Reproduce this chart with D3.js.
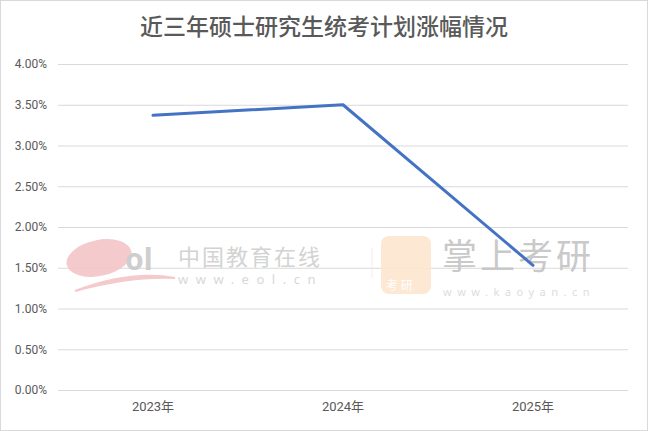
<!DOCTYPE html>
<html><head><meta charset="utf-8">
<script src="https://cdn.jsdelivr.net/npm/d3@7"></script>
<style>html,body{margin:0;padding:0;background:#fff;}svg{display:block;}</style>
</head><body>
<svg id="c" width="648" height="431"></svg>
<script>
const title = "近三年硕士研究生统考计划涨幅情况";
const categories = ["2023年", "2024年", "2025年"];
const values = [3.37, 3.50, 1.53];
const yTicks = [0, 0.5, 1, 1.5, 2, 2.5, 3, 3.5, 4];

const W = 648, H = 431;
const m = {left: 58, right: 20, top: 64, bottom: 41};
const svg = d3.select("#c");
svg.append("rect").attr("x",0.5).attr("y",0.5).attr("width",W-1).attr("height",H-1)
  .attr("fill","#fff").attr("stroke","#d9d9d9");

const x = d3.scaleBand().domain(categories).range([m.left, W - m.right]);
const y = d3.scaleLinear().domain([0, 4]).range([H - m.bottom, m.top]);

svg.append("text").attr("x", 324).attr("y", 35).attr("text-anchor","middle")
  .attr("font-family","'Noto Sans CJK SC', sans-serif").attr("font-size", 23)
  .attr("font-weight", 500)
  .attr("fill","#595959").text(title);

// grid + y axis
const ya = d3.axisLeft(y).tickValues(yTicks).tickSize(-(W - m.left - m.right))
  .tickFormat(d => d.toFixed(2) + "%").tickPadding(11);
const yg = svg.append("g").attr("transform", `translate(${m.left},0)`).call(ya);
yg.select(".domain").remove();
yg.selectAll(".tick line").attr("stroke","#d9d9d9");
yg.selectAll(".tick text").attr("fill","#595959").attr("font-size",12)
  .attr("font-family","Roboto, 'Liberation Sans', sans-serif");

// x axis
const xa = d3.axisBottom(x).tickSize(0).tickPadding(12);
const xg = svg.append("g").attr("transform", `translate(0,${H - m.bottom})`).call(xa);
xg.select(".domain").remove();
xg.selectAll(".tick text").attr("fill","#595959").attr("font-size",13)
  .attr("font-family","Roboto, 'Noto Sans CJK SC', sans-serif");

// watermarks
const wm = svg.append("g").attr("opacity", 0.9);
wm.append("ellipse").attr("cx", 99).attr("cy", 258).attr("rx", 33).attr("ry", 18)
  .attr("transform","rotate(-12,99,258)").attr("fill","#f4c5c7");
wm.append("path").attr("d","M75,291 Q130,270 175,278 Q130,276 75,291 Z").attr("fill","#f4c5c7").attr("stroke","#f4c5c7").attr("stroke-width",2);
wm.append("text").attr("x",125).attr("y",270).attr("font-size",30).attr("font-weight","bold")
  .attr("font-family","'Noto Sans', sans-serif").attr("fill","#c9c9c9").text("ol");
wm.append("text").attr("x",178).attr("y",265).attr("font-size",22).attr("letter-spacing",2)
  .attr("font-family","'Noto Sans CJK SC', sans-serif").attr("fill","#cfcfcf").text("中国教育在线");
wm.append("text").attr("x",178).attr("y",284).attr("font-size",13).attr("letter-spacing",7.5)
  .attr("font-family","'Noto Sans', sans-serif").attr("fill","#d4d4d4").text("www.eol.cn");
wm.append("line").attr("x1",372).attr("x2",372).attr("y1",248).attr("y2",278).attr("stroke","#eee");
wm.append("rect").attr("x",381).attr("y",236).attr("width",50).attr("height",58).attr("rx",8)
  .attr("fill","#fde6cf");
wm.append("text").attr("x",386).attr("y",290).attr("font-size",12)
  .attr("font-family","'Noto Sans CJK SC', sans-serif").attr("fill","#fff").text("考 研");
wm.append("text").attr("x",442).attr("y",269).attr("font-size",35).attr("letter-spacing",3)
  .attr("font-family","'Noto Sans CJK SC', sans-serif").attr("fill","#c4c4c4").text("掌上考研");
wm.append("text").attr("x",443).attr("y",296).attr("font-size",11).attr("letter-spacing",5.5)
  .attr("font-family","'Noto Sans', sans-serif").attr("fill","#dadada").text("www.kaoyan.cn");

// line
const line = d3.line().x((d,i) => x(categories[i]) + x.bandwidth()/2).y(d => y(d));
svg.append("path").datum(values).attr("d", line).attr("fill","none")
  .attr("stroke","#4472C4").attr("stroke-width",3).attr("stroke-linejoin","round")
  .attr("stroke-linecap","round");
</script>
</body></html>
